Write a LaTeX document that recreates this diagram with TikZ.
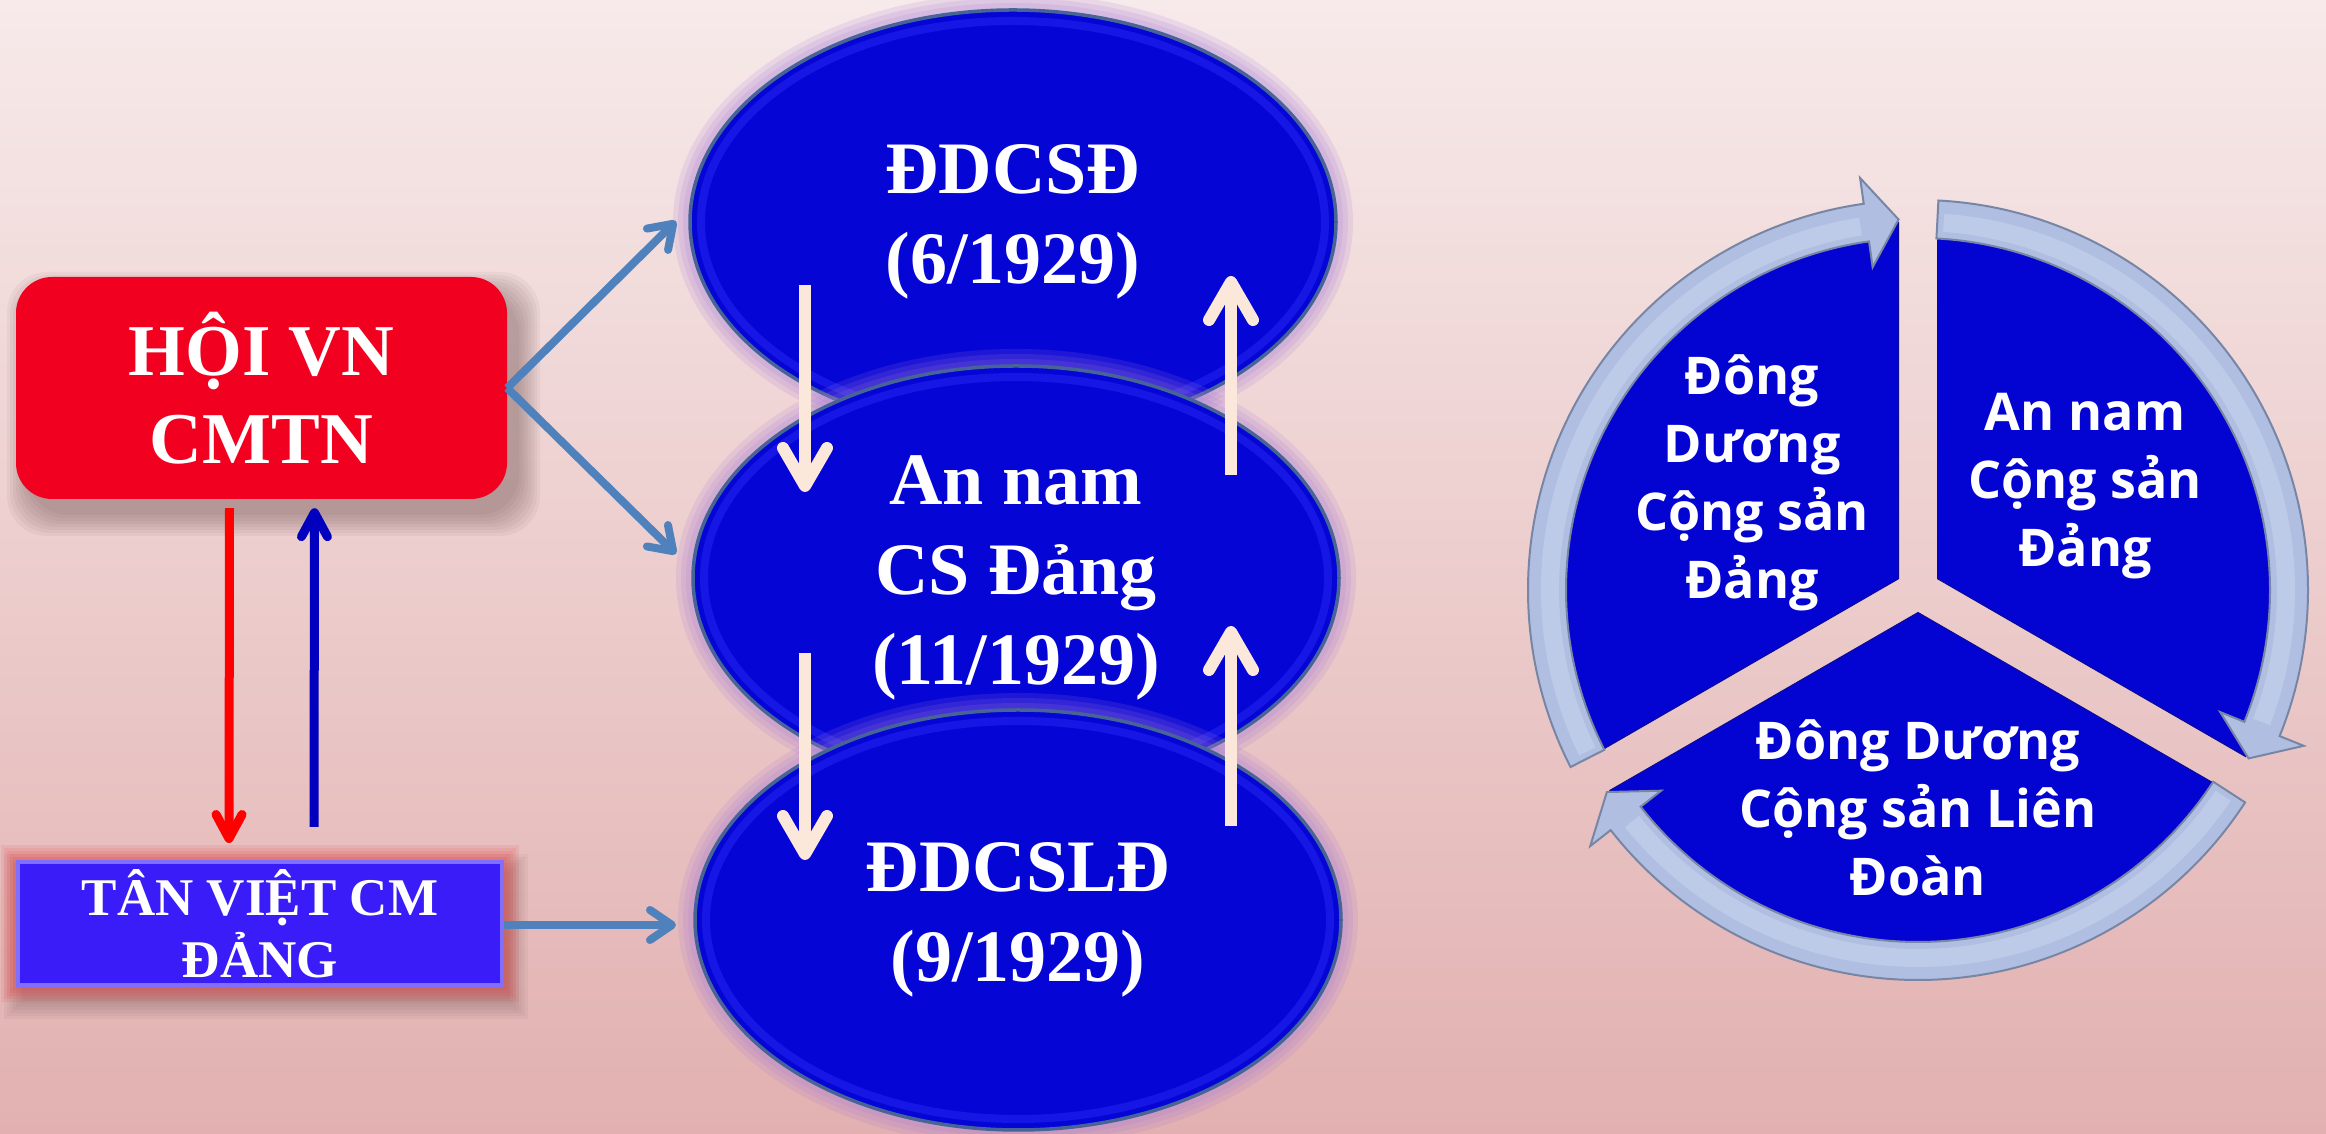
\documentclass[tikz,border=0pt]{standalone}
\usepackage{fontspec}
\setmainfont{Liberation Serif}
\newfontfamily\osans{Open Sans}
\usetikzlibrary{arrows.meta,shapes.geometric,calc}

\definecolor{bgtop}{RGB}{247,234,234}
\definecolor{bgmid}{RGB}{238,212,212}
\definecolor{bgbot}{RGB}{226,176,176}
\definecolor{hoired}{RGB}{242,0,32}
\definecolor{tanblue}{RGB}{58,28,248}
\definecolor{tanedge}{RGB}{128,110,255}
\definecolor{ovalblue}{RGB}{5,5,214}
\definecolor{ovaledge}{RGB}{70,100,150}
\definecolor{ovalhi}{RGB}{35,35,240}
\definecolor{halo}{RGB}{165,120,215}
\definecolor{steel}{RGB}{79,129,189}
\definecolor{cream}{RGB}{252,232,218}
\definecolor{navy}{RGB}{0,0,190}
\definecolor{ringfill}{RGB}{176,191,225}
\definecolor{ringhi}{RGB}{194,206,234}
\definecolor{ringedge}{RGB}{120,134,166}
\definecolor{wedge}{RGB}{4,4,210}
\definecolor{wedgeedge}{RGB}{10,10,150}
\definecolor{shadowc}{RGB}{90,60,60}
\definecolor{glowred}{RGB}{230,50,50}

\newcommand{\cycarrow}[3]{%
  \filldraw[ringpart] (#1:390) arc[start angle=#1, end angle=#2, radius=390]
     -- (#2:416) -- (#3:371) -- (#2:326) -- (#2:352)
     arc[start angle=#2, end angle=#1, radius=352] -- cycle;
  \draw[ringlight] (#1-1:368) arc[start angle=#1-1, end angle=#2+1, radius=368];}

\begin{document}
\begin{tikzpicture}[x=1pt,y=1pt,
  hoibox/.style={rectangle, rounded corners=36pt, fill=hoired, minimum width=491pt,
    minimum height=222pt, inner sep=0pt, text=white, align=center,
    font=\fontsize{73}{88}\selectfont\bfseries},
  tanbox/.style={rectangle, fill=tanblue, draw=tanedge, line width=4pt,
    minimum width=484pt, minimum height=123pt, inner sep=0pt, text=white,
    align=center, font=\fontsize{53}{62}\selectfont\bfseries},
  oval/.style={ellipse, fill=ovalblue, draw=ovaledge, line width=3.5pt,
    minimum width=646pt, minimum height=424pt, inner sep=0pt, text=white,
    align=center, font=\fontsize{74}{90}\selectfont\bfseries},
  creamarrow/.style={draw=cream, line width=12pt,
    -{Straight Barb[length=38pt,width=44pt,round]}},
  redarrow/.style={draw=red, line width=9pt,
    -{Straight Barb[length=24pt,width=26pt,round]}},
  navyarrow/.style={draw=navy, line width=9pt,
    -{Straight Barb[length=24pt,width=26pt,round]}},
  steelarrow/.style={draw=steel, line width=8pt,
    -{Straight Barb[length=22pt,width=30pt,round]}},
  ringpart/.style={fill=ringfill, draw=ringedge, line width=2pt, line join=miter},
  ringlight/.style={draw=ringhi, line width=18pt, opacity=0.8},
  wedgepart/.style={fill=wedge, draw=wedgeedge, line width=1pt},
  pietext/.style={text=white, align=center,
    font=\osans\fontsize{52}{68}\selectfont\bfseries}
]
% background
\shade[top color=bgtop, middle color=bgmid, bottom color=bgbot] (0,0) rectangle (2326,1134);
\useasboundingbox (0,0) rectangle (2326,1134);

% shadow of red box
\foreach \i in {0,...,7}
  \fill[shadowc, opacity=0.055, rounded corners=40pt]
    (28-\i*3, 619-\i*3) rectangle (519+\i*3, 841+\i*3);
\node[hoibox] (hoi) at (261.5,746) {HỘI VN\\CMTN};

% glow of blue box
\foreach \i in {0,...,6}
  \fill[shadowc, opacity=0.05] (22-\i*3, 133-\i*3) rectangle (510+\i*3, 262+\i*3);
\foreach \i in {1,...,5}
  \fill[glowred, opacity=0.10] (16-\i*3, 147-\i*3) rectangle (504+\i*3, 274+\i*3);
\node[tanbox] (tan) at (260,210.5) {TÂN VIỆT CM\\ĐẢNG};

% red and blue vertical arrows
\draw[redarrow] ([xshift=-32pt,yshift=-9pt]hoi.south) -- ([xshift=-31pt,yshift=17pt]tan.north);
\draw[navyarrow] ([xshift=54pt,yshift=33pt]tan.north) -- ([xshift=53pt,yshift=-9pt]hoi.south);

% ellipses
\foreach \w in {34,24,14}
  \draw[halo, opacity=0.16, line width=\w pt] (1013,912) ellipse [x radius=323, y radius=212];
\node[oval] (top) at (1013,912) {ĐDCSĐ\\(6/1929)};
\draw[ovalhi, line width=8pt, opacity=0.6] (1013,912) ellipse [x radius=312, y radius=201];

\foreach \w in {34,24,14}
  \draw[halo, opacity=0.16, line width=\w pt] (1016,556) ellipse [x radius=323, y radius=212];
\node[oval] (mid) at (1016,556) {An nam\\CS Đảng\\(11/1929)};
\draw[ovalhi, line width=8pt, opacity=0.6] (1016,556) ellipse [x radius=312, y radius=201];

\foreach \w in {34,24,14}
  \draw[halo, opacity=0.16, line width=\w pt] (1018,214) ellipse [x radius=323, y radius=210];
\node[oval, minimum height=420pt] (bot) at (1018,214) {ĐDCSLĐ\\(9/1929)};
\draw[ovalhi, line width=8pt, opacity=0.6] (1018,214) ellipse [x radius=312, y radius=199];

% steel blue arrows
\coordinate (e1) at (676,913);
\coordinate (e2) at (676,580);
\coordinate (e3) at (676,209);
\draw[steelarrow] (hoi.east) -- (e1);
\draw[steelarrow] (hoi.east) -- (e2);
\draw[steelarrow] (tan.east |- e3) -- (e3);

% cream arrows
\coordinate (d1s) at (805,849); \coordinate (d1e) at (805,642);
\coordinate (u1s) at (1231,659); \coordinate (u1e) at (1231,858);
\coordinate (d2s) at (805,481); \coordinate (d2e) at (805,274);
\coordinate (u2s) at (1231,308); \coordinate (u2e) at (1231,508);
\draw[creamarrow] (d1s) -- (d1e);
\draw[creamarrow] (u1s) -- (u1e);
\draw[creamarrow] (d2s) -- (d2e);
\draw[creamarrow] (u2s) -- (u2e);

% cycle diagram
\begin{scope}[shift={(1918,544)}]
  \filldraw[wedgepart] (150:22.5) -- ++(90:356) arc[start angle=90, end angle=210, radius=356] -- cycle;
  \filldraw[wedgepart] (30:22.5) -- ++(-30:356) arc[start angle=-30, end angle=90, radius=356] -- cycle;
  \filldraw[wedgepart] (270:22.5) -- ++(210:356) arc[start angle=210, end angle=330, radius=356] -- cycle;
  \cycarrow{207}{98}{93}
  \cycarrow{87}{-22}{-27}
  \cycarrow{-33}{-142}{-147}
\end{scope}

\node[pietext] (pl) at (1752,651) {Đông\\Dương\\Cộng sản\\Đảng};
\node[pietext] (pr) at (2085,648) {An nam\\Cộng sản\\Đảng};
\node[pietext] (pb) at (1918,326) {Đông Dương\\Cộng sản Liên\\Đoàn};
\end{tikzpicture}
\end{document}
